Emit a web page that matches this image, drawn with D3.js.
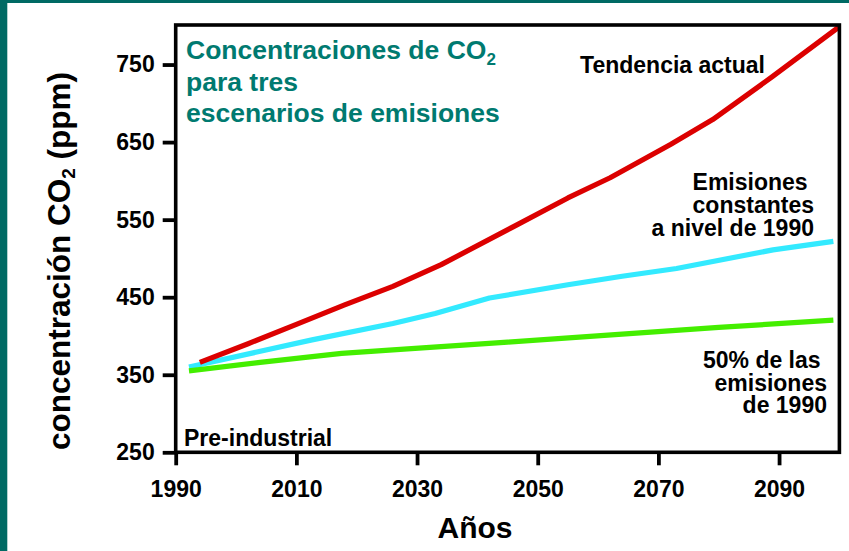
<!DOCTYPE html>
<meta charset="utf-8">
<script src="https://d3js.org/d3.v7.min.js"></script>
<style>
    body { margin: 0; background: #ffffff; }
    text { font-family: "Liberation Sans", Arial, sans-serif; font-weight: bold; }
</style>
<div id="my_dataviz"></div>
<script>
    // data
    var yearsTendencia = [1994, 2002, 2010, 2018, 2026, 2034, 2046, 2055, 2062, 2072, 2079, 2089, 2100];
    var co2Tendencia   = [366, 390, 415, 440, 464, 492, 541, 578, 604, 647, 679, 735, 799];

    var yearsConstante = [1992.2, 2012.6, 2026, 2033, 2042, 2055, 2064, 2073, 2089, 2099];
    var co2Constante   = [360, 395, 416, 429, 449, 466, 477, 487, 511, 522];

    var yearsMitad = [1992.2, 2004, 2017.5, 2026, 2045, 2064, 2080, 2099];
    var co2Mitad   = [355, 366, 377.5, 382, 392, 402.5, 411, 420.5];

    var xTicks = [1990, 2010, 2030, 2050, 2070, 2090];
    var yTicks = [250, 350, 450, 550, 650, 750];

    var W = 849, H = 551;

    var svg = d3.select("#my_dataviz")
        .append("svg")
        .attr("width", W)
        .attr("height", H);

    // teal slide border
    svg.append("rect").attr("x", 0).attr("y", 0).attr("width", W).attr("height", 3).attr("fill", "#006a64");
    svg.append("rect").attr("x", 0).attr("y", 0).attr("width", 7.3).attr("height", H).attr("fill", "#006a64");

    var x = d3.scaleLinear().domain([1990, 2100]).range([175.7, 839.4]);
    var y = d3.scaleLinear().domain([250, 801]).range([452.3, 25]);

    // lines
    var series = [
        { xs: yearsConstante, ys: co2Constante, color: "#33eaff" },
        { xs: yearsMitad, ys: co2Mitad, color: "#44ee00" },
        { xs: yearsTendencia, ys: co2Tendencia, color: "#dc0000" }
    ];
    var line = d3.line()
        .x(function (d) { return x(d[0]); })
        .y(function (d) { return y(d[1]); });

    series.forEach(function (s) {
        svg.append("path")
            .datum(d3.zip(s.xs, s.ys))
            .attr("fill", "none")
            .attr("stroke", s.color)
            .attr("stroke-width", 5.2)
            .attr("stroke-linejoin", "round")
            .attr("d", line);
    });

    // frame
    svg.append("rect")
        .attr("x", x(1990))
        .attr("y", y(801))
        .attr("width", x(2100) - x(1990))
        .attr("height", y(250) - y(801))
        .attr("fill", "none")
        .attr("stroke", "#000")
        .attr("stroke-width", 3.6);

    // axes
    var xAxis = svg.append("g")
        .attr("transform", "translate(0," + y(250) + ")")
        .call(d3.axisBottom(x).tickValues(xTicks).tickSize(13).tickPadding(15).tickFormat(d3.format("d")));
    var yAxis = svg.append("g")
        .attr("transform", "translate(" + x(1990) + ",0)")
        .call(d3.axisLeft(y).tickValues(yTicks).tickSize(13).tickPadding(8).tickFormat(d3.format("d")));

    [xAxis, yAxis].forEach(function (a) {
        a.select(".domain").remove();
        a.selectAll(".tick line").attr("stroke", "#000").attr("stroke-width", 3.8);
        a.selectAll(".tick text")
            .attr("fill", "#000")
            .style("font-size", "23px")
            .style("font-family", "'Liberation Sans', Arial, sans-serif")
            .style("font-weight", "bold");
    });

    // title
    var title = svg.append("text")
        .attr("fill", "#007a70")
        .style("font-size", "26.5px");
    title.append("tspan").attr("x", 186).attr("y", 59).text("Concentraciones de CO");
    title.append("tspan").attr("dy", 6).style("font-size", "17px").text("2");
    svg.append("text").attr("fill", "#007a70").style("font-size", "26.5px")
        .attr("x", 186).attr("y", 91).text("para tres");
    svg.append("text").attr("fill", "#007a70").style("font-size", "26.5px")
        .attr("x", 186).attr("y", 122).text("escenarios de emisiones");

    // annotations, one text per line
    function block(lines, xEnd, y0, step, anchor) {
        lines.forEach(function (l, i) {
            svg.append("text")
                .attr("fill", "#000")
                .attr("xml:space", "preserve")
                .style("font-size", "23px")
                .attr("text-anchor", anchor)
                .attr("x", xEnd)
                .attr("y", y0 + i * step)
                .text(l);
        });
    }
    block(["Tendencia actual"], 765, 73, 0, "end");
    block(["Emisiones ", "constantes", "a nivel de 1990"], 814, 190, 23, "end");
    block(["50% de las ", "emisiones", "de 1990"], 827, 368, 22.5, "end");
    block(["Pre-industrial"], 184, 446, 0, "start");

    // axis titles
    svg.append("text")
        .attr("x", 475)
        .attr("y", 538)
        .attr("text-anchor", "middle")
        .style("font-size", "30px")
        .text("Años");

    var ylab = svg.append("text")
        .attr("transform", "translate(70,261) rotate(-90)")
        .attr("text-anchor", "middle")
        .style("font-size", "31.5px");
    ylab.append("tspan").text("concentración CO");
    ylab.append("tspan").attr("dy", 5).style("font-size", "19px").text("2");
    ylab.append("tspan").attr("dy", -5).text(" (ppm)");
</script>
